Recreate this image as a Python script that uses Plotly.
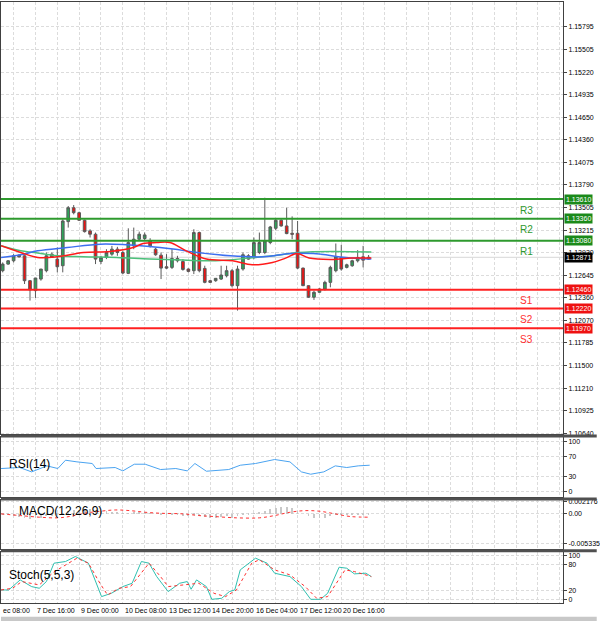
import plotly.graph_objects as go
from plotly.subplots import make_subplots

# 4H candles, index 1..68
opens = [1.12701, 1.12785, 1.12827, 1.12898, 1.12890, 1.12574, 1.12448, 1.12595, 1.12701, 1.12911,
         1.12848, 1.12764, 1.13324, 1.13500, 1.13437, 1.13341, 1.13206, 1.13164, 1.12818, 1.12869,
         1.12911, 1.12974, 1.12932, 1.12667, 1.13016, 1.13101, 1.13109, 1.13079, 1.12974, 1.12898,
         1.12751, 1.12743, 1.12856, 1.12818, 1.12722, 1.12701, 1.13185, 1.12730, 1.12574, 1.12574,
         1.12595, 1.12637, 1.12701, 1.12511, 1.12722, 1.12890, 1.12877, 1.12932, 1.12932, 1.13058,
         1.13239, 1.13341, 1.13269, 1.13176, 1.13176, 1.12734, 1.12511, 1.12364, 1.12427, 1.12469,
         1.12553, 1.12701, 1.12869, 1.12743, 1.12764, 1.12827, 1.12877, 1.12848]
highs = [1.12806, 1.12835, 1.12911, 1.12911, 1.12898, 1.12583, 1.12608, 1.12722, 1.12932, 1.12932,
         1.12995, 1.13353, 1.13522, 1.13534, 1.13450, 1.13350, 1.13227, 1.13185, 1.12890, 1.12974,
         1.13016, 1.13004, 1.12953, 1.13239, 1.13248, 1.13197, 1.13185, 1.13113, 1.12990, 1.12932,
         1.12911, 1.12974, 1.12890, 1.12848, 1.12730, 1.13227, 1.13197, 1.12764, 1.12583, 1.12608,
         1.12764, 1.12764, 1.12722, 1.12764, 1.12932, 1.12911, 1.13122, 1.13185, 1.13627, 1.13269,
         1.13366, 1.13353, 1.13500, 1.13390, 1.13332, 1.12740, 1.12515, 1.12448, 1.12480, 1.12574,
         1.12764, 1.13046, 1.13029, 1.12790, 1.12840, 1.12962, 1.13016, 1.12900]
lows = [1.12680, 1.12776, 1.12806, 1.12869, 1.12532, 1.12322, 1.12355, 1.12574, 1.12680, 1.12869,
        1.12680, 1.12680, 1.13248, 1.13416, 1.13332, 1.13185, 1.13122, 1.12785, 1.12785, 1.12848,
        1.12890, 1.12890, 1.12658, 1.12658, 1.12974, 1.13088, 1.13079, 1.12995, 1.12890, 1.12595,
        1.12722, 1.12722, 1.12806, 1.12701, 1.12680, 1.12658, 1.12680, 1.12541, 1.12545, 1.12560,
        1.12583, 1.12616, 1.12490, 1.12195, 1.12701, 1.12840, 1.12848, 1.12911, 1.12911, 1.13037,
        1.13214, 1.13260, 1.13164, 1.13101, 1.12722, 1.12505, 1.12355, 1.12330, 1.12420, 1.12448,
        1.12490, 1.12680, 1.12701, 1.12730, 1.12750, 1.12806, 1.12743, 1.12840]
closes = [1.12785, 1.12827, 1.12890, 1.12877, 1.12574, 1.12456, 1.12608, 1.12722, 1.12890, 1.12869,
          1.12751, 1.13332, 1.13500, 1.13437, 1.13341, 1.13197, 1.13164, 1.12848, 1.12869, 1.12932,
          1.12974, 1.12932, 1.12671, 1.13058, 1.13101, 1.13164, 1.13155, 1.13016, 1.12903, 1.12734,
          1.12734, 1.12856, 1.12827, 1.12717, 1.12692, 1.13185, 1.12701, 1.12553, 1.12553, 1.12604,
          1.12646, 1.12701, 1.12511, 1.12722, 1.12903, 1.12848, 1.13058, 1.13058, 1.13079, 1.13256,
          1.13341, 1.13269, 1.13172, 1.13164, 1.12734, 1.12511, 1.12364, 1.12427, 1.12469, 1.12553,
          1.12743, 1.12877, 1.12722, 1.12776, 1.12827, 1.12869, 1.12835, 1.12871]

# moving averages (sampled)
ma_red_x = [0.7, 4.3, 7.4, 11, 15.8, 20.7, 24.9, 26.7, 29.2, 31.6, 34.6, 38.3, 43.1, 46.7, 50.4, 52.8, 54.9, 57.1, 61.3, 64.9, 68.5]
ma_red = [1.13017, 1.12932, 1.12869, 1.12878, 1.12932, 1.12945, 1.12995, 1.13046, 1.13058, 1.13058, 1.12953,
          1.12849, 1.12827, 1.12777, 1.12806, 1.12861, 1.12919, 1.12861, 1.12844, 1.12861, 1.12861]
ma_blue_x = [0.7, 4.3, 7.4, 12.8, 18.9, 23.7, 27.9, 32.2, 36.6, 42.7, 48.8, 53.7, 57.9, 63.9, 68.5]
ma_blue = [1.12869, 1.12903, 1.12953, 1.12995, 1.13038, 1.13030, 1.13009, 1.12975, 1.12932, 1.12890,
           1.12878, 1.12919, 1.12919, 1.12869, 1.12849]
ma_green_x = [0.7, 4.3, 6.8, 11, 15.8, 21.9, 27.9, 34, 40, 46.1, 50.4, 55.2, 61.3, 68.5]
ma_green = [1.13017, 1.12953, 1.12932, 1.12890, 1.12878, 1.12869, 1.12849, 1.12836, 1.12827, 1.12861,
            1.12890, 1.12932, 1.12945, 1.12937]

last_price = 1.12871
res_levels = [1.13610, 1.13360, 1.13080]
res_names = ["R3", "R2", "R1"]
sup_levels = [1.12460, 1.12220, 1.11970]
sup_names = ["S1", "S2", "S3"]

price_ticks = [1.15795, 1.15505, 1.15220, 1.14935, 1.14650, 1.14360, 1.14075, 1.13790, 1.13505,
               1.13215, 1.12930, 1.12645, 1.12360, 1.12070, 1.11785, 1.11500, 1.11210, 1.10925, 1.10640]

rsi_x = [0.7, 4.1, 6.3, 9.1, 11.1, 12.5, 14.6, 17.4, 18.1, 21.6, 23, 25.1, 27.1, 29.9, 32.7, 34.8, 36.2,
         38.3, 42.4, 44.5, 47.3, 50.8, 53.6, 55.7, 57.4, 59.8, 61.9, 64, 66.1, 68.2]
rsi = [46.7, 48.7, 40, 52, 46.7, 63.3, 60, 56.7, 46.7, 48.7, 42, 55.3, 55.3, 44.7, 46.7, 42, 56.7,
       41.3, 44.7, 53.3, 56.7, 64.7, 60, 40, 35.3, 40, 52, 48.7, 52, 53.3]

macd_hist = [-0.0002, -0.0003, -0.0004, -0.0006, -0.0008, -0.0009, -0.0008, -0.0007, -0.0005, -0.0004,
             -0.0003, 0.0001, 0.0004, 0.0006, 0.0007, 0.0008, 0.0008, 0.0006, 0.0005, 0.0004,
             0.0003, 0.0002, 0.0001, 0.0001, 0.0002, 0.0002, 0.0002, 0.0001, 0.0, -0.0002,
             -0.0003, -0.0002, -0.0003, -0.0004, -0.0004, -0.0002, -0.0004, -0.0006, -0.0007, -0.0007,
             -0.0006, -0.0005, -0.0007, -0.0005, -0.0003, -0.0002, 0.0001, 0.0003, 0.0005, 0.0008,
             0.0011, 0.0012, 0.0012, 0.0011, 0.0005, 0.0, -0.0005, -0.0008, -0.0008, -0.0007,
             -0.0005, -0.0003, -0.0003, -0.0003, -0.0002, -0.0002, -0.0002, -0.0002]
macd_sig_x = [0.7, 4.2, 7.7, 11.1, 13.2, 16, 18.8, 21.6, 24.3, 27.1, 29.9, 34.1, 36.9, 39.7, 43.8, 48,
              50.8, 53.6, 56.4, 59.1, 61.9, 64.7, 68.2]
macd_sig = [0, -0.0003, -0.0006, -0.00072, -0.00048, 0.00012, 0.00048, 0.00072, 0.0006, 0.0003, 0.00012,
            0, -0.0003, -0.00048, -0.00072, -0.00072, -0.0003, 0.0003, 0.0006, 0.00048, 0, -0.00048, -0.0006]

stoch_x = [0.7, 2.1, 4.2, 6.3, 7.7, 9.0, 10.4, 12.5, 14.3, 16.7, 19.1, 20.9, 23, 24.7, 26.4, 27.8, 29.2,
           31.3, 33.4, 34.8, 35.5, 36.5, 38.3, 39.3, 41.1, 42.5, 43.5, 44.5, 47.3, 49.4, 50.8, 53.6,
           55.7, 57.4, 59.2, 60.5, 62.6, 64, 65.4, 67.5, 68.5]
stoch_k = [21.5, 21.5, 44.6, 29.2, 25.4, 40.8, 83.1, 86.9, 98.5, 83.1, 6.2, 13.8, 29.2, 36.9, 86.9, 83.1,
           52.3, 17.7, 36.9, 40.8, 23.1, 44.6, 29.2, 0, 2.3, 17.7, 21.5, 67.7, 94.6, 83.1, 60, 52.3,
           29.2, 0, 0, 13.8, 73.8, 71.5, 58.5, 60, 52.3]
stoch_d_x = [0.7, 2.8, 4.5, 7.7, 10.4, 13.2, 14.6, 16.7, 18.8, 20.2, 22.3, 24.4, 26.4, 27.8, 29.9, 31.3,
             34.1, 36.9, 39.7, 41.8, 43.8, 46.6, 48, 50.8, 53.6, 56.4, 58.5, 60.5, 61.9, 63.7, 65.4, 68.5]
stoch_d = [21.5, 25.4, 40.8, 33.1, 63.1, 83.1, 94.6, 83.1, 36.9, 10, 25.4, 29.2, 60, 83.1, 52.3, 29.2,
           33.1, 36.9, 13.8, 6.2, 21.5, 83.1, 90.8, 67.7, 56.2, 29.2, 2.3, 6.2, 33.1, 67.7, 63.8, 52.3]

time_tick_pos = [7, 15, 23, 31, 39, 47, 55, 63]
time_tick_text = ["7 Dec 16:00", "9 Dec 00:00", "10 Dec 08:00", "13 Dec 12:00",
                  "14 Dec 20:00", "16 Dec 04:00", "17 Dec 12:00", "20 Dec 16:00"]

idx = list(range(1, len(closes) + 1))
FONT = "Liberation Sans"

fig = make_subplots(rows=4, cols=1, shared_xaxes=True, vertical_spacing=0.0)

fig.add_trace(go.Candlestick(x=idx, open=opens, high=highs, low=lows, close=closes,
                             increasing=dict(fillcolor="#2ea35a", line=dict(color="#5a5a5a", width=1)),
                             decreasing=dict(fillcolor="#ee1111", line=dict(color="#5a5a5a", width=1)),
                             whiskerwidth=0, showlegend=False), row=1, col=1)
for xs, ys, col in [(ma_green_x, ma_green, "#4cc07a"), (ma_blue_x, ma_blue, "#3c6ff0"), (ma_red_x, ma_red, "#ff1a1a")]:
    fig.add_trace(go.Scatter(x=xs, y=ys, mode="lines", line=dict(color=col, width=1.5, shape="spline"),
                             showlegend=False, hoverinfo="skip"), row=1, col=1)

fig.add_trace(go.Scatter(x=rsi_x, y=rsi, mode="lines", line=dict(color="#4aa3f0", width=1),
                         showlegend=False), row=2, col=1)
fig.add_trace(go.Bar(x=idx, y=macd_hist, marker=dict(color="#c8c8c8", line=dict(width=0)), width=0.15,
                     showlegend=False), row=3, col=1)
fig.add_trace(go.Scatter(x=macd_sig_x, y=macd_sig, mode="lines", line=dict(color="#ff3030", width=1, dash="dot", shape="spline"),
                         showlegend=False), row=3, col=1)
fig.add_trace(go.Scatter(x=stoch_x, y=stoch_k, mode="lines", line=dict(color="#30c0b0", width=1),
                         showlegend=False), row=4, col=1)
fig.add_trace(go.Scatter(x=stoch_d_x, y=stoch_d, mode="lines", line=dict(color="#ff3030", width=1, dash="dot"),
                         showlegend=False), row=4, col=1)

shapes = []
annotations = []
# current price line
shapes.append(dict(type="line", xref="x domain", yref="y", x0=0, x1=1, y0=last_price, y1=last_price,
                   line=dict(color="#d8d8d8", width=1), layer="below"))
for lv, nm in zip(res_levels, res_names):
    shapes.append(dict(type="line", xref="x domain", yref="y", x0=0, x1=1, y0=lv, y1=lv,
                       line=dict(color="#2e9a2e", width=2)))
    annotations.append(dict(xref="x domain", yref="y", x=0.95, y=lv, yshift=-11, text=nm, showarrow=False,
                            font=dict(family=FONT, size=10, color="#2e9a2e")))
    annotations.append(dict(xref="x domain", yref="y", x=1.002, y=lv, xanchor="left", text="%.5f" % lv,
                            showarrow=False, bgcolor="#1a8a1a", font=dict(family=FONT, size=7, color="white"),
                            borderpad=1))
for lv, nm in zip(sup_levels, sup_names):
    shapes.append(dict(type="line", xref="x domain", yref="y", x0=0, x1=1, y0=lv, y1=lv,
                       line=dict(color="#ff2020", width=2)))
    annotations.append(dict(xref="x domain", yref="y", x=0.95, y=lv, yshift=-11, text=nm, showarrow=False,
                            font=dict(family=FONT, size=10, color="#ff3030")))
    annotations.append(dict(xref="x domain", yref="y", x=1.002, y=lv, xanchor="left", text="%.5f" % lv,
                            showarrow=False, bgcolor="#ee1111", font=dict(family=FONT, size=7, color="white"),
                            borderpad=1))
annotations.append(dict(xref="x domain", yref="y", x=1.002, y=last_price, xanchor="left", text="%.5f" % last_price,
                        showarrow=False, bgcolor="black", font=dict(family=FONT, size=7, color="white"), borderpad=1))

annotations.append(dict(xref="paper", yref="y2", x=0.01, y=55, xanchor="left", text="RSI(14)", showarrow=False,
                        font=dict(family=FONT, size=12, color="black")))
annotations.append(dict(xref="paper", yref="y3", x=0.028, y=0.0006, xanchor="left", text="MACD(12,26,9)",
                        showarrow=False, font=dict(family=FONT, size=12, color="black")))
annotations.append(dict(xref="paper", yref="y4", x=0.01, y=56, xanchor="left", text="Stoch(5,5,3)",
                        showarrow=False, font=dict(family=FONT, size=12, color="black")))
annotations.append(dict(xref="paper", yref="paper", x=0, y=-0.004, xanchor="left", yanchor="top",
                        text="ec 08:00", showarrow=False, font=dict(family=FONT, size=7, color="black")))
for p, t in zip(time_tick_pos, time_tick_text):
    annotations.append(dict(xref="x4", yref="paper", x=p, y=-0.004, xanchor="left", yanchor="top",
                            text=t, showarrow=False, font=dict(family=FONT, size=7, color="black")))

# panel separators
for yp in [0.281, 0.176, 0.090]:
    shapes.append(dict(type="line", xref="paper", yref="paper", x0=0, x1=1.06, y0=yp - 0.003, y1=yp - 0.003,
                       line=dict(color="#505050", width=3)))
shapes.append(dict(type="rect", xref="paper", yref="paper", x0=0, x1=1.06, y0=-0.03, y1=-0.023,
                   fillcolor="#c8c8c8", line=dict(width=0)))

grid = dict(showgrid=True, gridcolor="#dcdcdc", griddash="3px,2px", gridwidth=1,
            showline=True, linecolor="#404040", mirror=True, zeroline=False)
xr = [0.69, 103.6]

fig.update_layout(
    width=600, height=621, margin=dict(l=0, r=34, t=2, b=18),
    paper_bgcolor="white", plot_bgcolor="white",
    shapes=shapes, annotations=annotations, showlegend=False, bargap=0,
    font=dict(family=FONT, size=7, color="black"),
    xaxis=dict(range=xr, tick0=3, dtick=4, showticklabels=False, rangeslider=dict(visible=False), **grid),
    xaxis2=dict(range=xr, tick0=3, dtick=4, showticklabels=False, **grid),
    xaxis3=dict(range=xr, tick0=3, dtick=4, showticklabels=False, **grid),
    xaxis4=dict(range=xr, tick0=3, dtick=4, showticklabels=False, **grid),
    yaxis=dict(domain=[0.281, 1.0], side="right", range=[1.10627, 1.16111], tickvals=price_ticks,
               ticktext=["%.5f" % v for v in price_ticks], ticks="outside", ticklen=3, **grid),
    yaxis2=dict(domain=[0.176, 0.276], side="right", range=[-10.6, 109.4], tickvals=[0, 30, 70, 100],
                ticks="outside", ticklen=3, **grid),
    yaxis3=dict(domain=[0.090, 0.171], side="right", range=[-0.0064, 0.0025], tickvals=[-0.005335, 0, 0.002176],
                ticktext=["-0.005335", "0.00", "0.002176"], ticks="outside", ticklen=3, **grid),
    yaxis4=dict(domain=[0.0, 0.085], side="right", range=[-8.5, 109], tickvals=[0, 20, 80, 100],
                ticks="outside", ticklen=3, **grid),
)

fig.write_html("out.html", config={"displayModeBar": False},
               post_script="document.body.style.margin='0';")
